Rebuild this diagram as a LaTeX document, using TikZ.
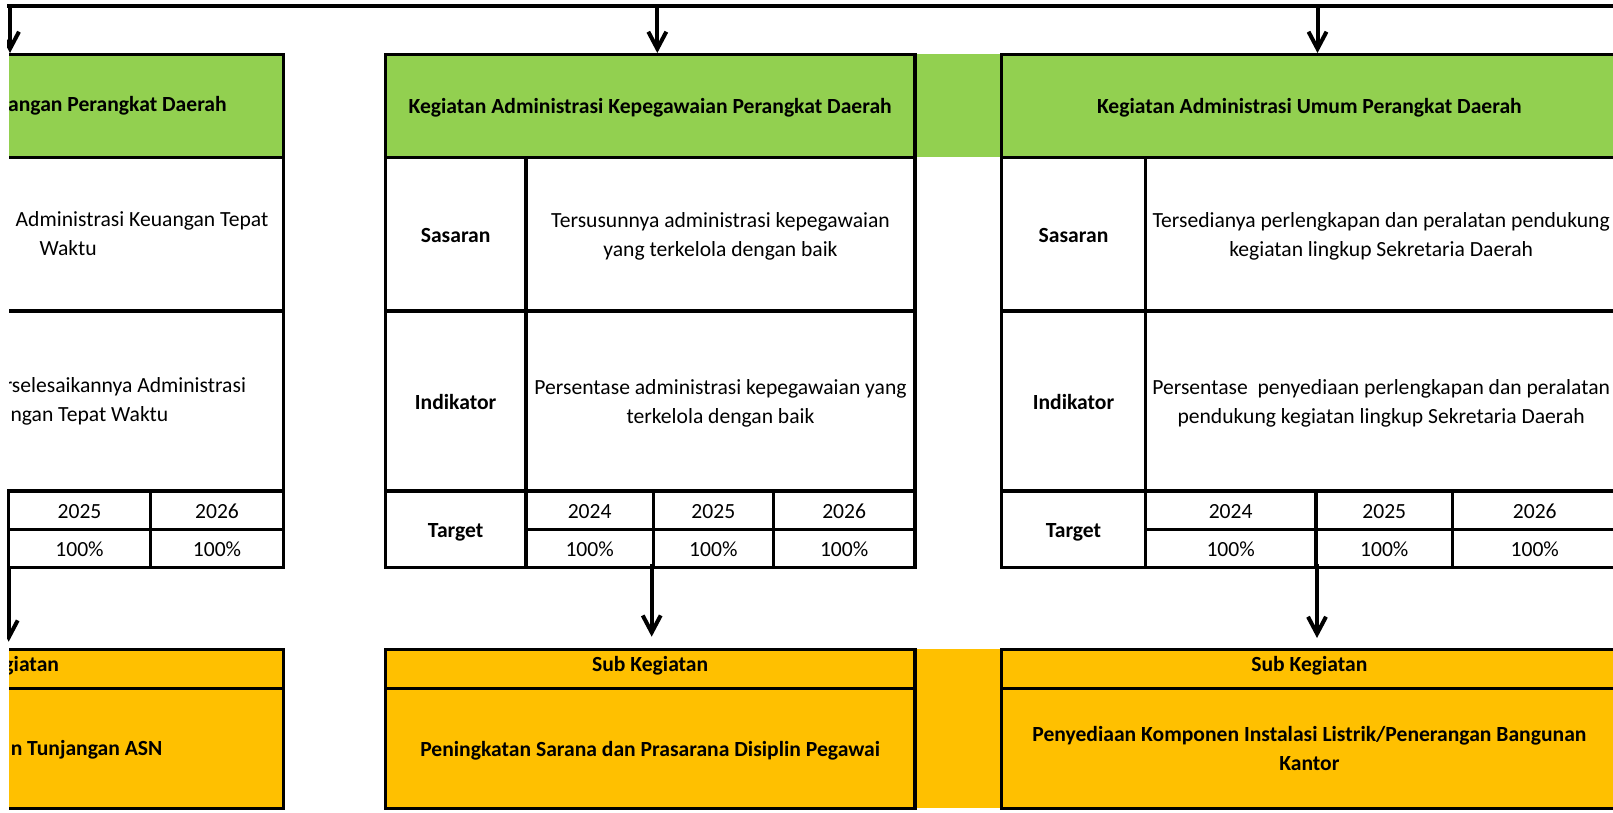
\documentclass[tikz,border=0pt]{standalone}
\usepackage{fontspec}
\setmainfont{Carlito}
\usetikzlibrary{arrows.meta}
\definecolor{hgreen}{HTML}{92D050}
\definecolor{horange}{HTML}{FFC000}
\begin{document}
\begin{tikzpicture}[x=1pt,y=-1pt,
  plain/.style={font=\fontsize{21.6}{28.7}\selectfont},
  bold/.style={font=\fontsize{21.6}{28.7}\selectfont\bfseries},
  box/.style={draw=black, line width=3.4pt, inner sep=0pt, outer sep=0pt,
    plain, text height=18pt, text depth=2pt, align=center},
  two/.style={text height=46.7pt},
  gbox/.style={box, fill=hgreen},
  obox/.style={box, fill=horange},
  subhead/.style={obox, bold, text height=16pt, text depth=10pt},
  lbl/.style={inner sep=0pt, outer sep=0pt, anchor=base east},
  bus/.style={line width=4pt},
  arr/.style={line width=4pt, -{Straight Barb[length=17pt,width=18pt]}},
]
\useasboundingbox (0,0) rectangle (1613,813);
\clip (7,0) rectangle (1613,813);

% fillers between boxes
\fill[hgreen] (915,54.5) rectangle (1001.7,157.5);
\fill[horange] (915,649.3) rectangle (1001.7,808.3);

% ---------------- left box (partly outside the picture) ----------------
\begin{scope}
\clip (9,0) rectangle (1613,813);
\node[gbox, minimum width=600pt, minimum height=103pt] (lh) at (-16.7,106) {};
\node[box, minimum width=600pt, minimum height=153.5pt] (lsv) at (-16.7,234.25) {};
\node[box, minimum width=600pt, minimum height=180pt] (liv) at (-16.7,401) {};
\node[obox, minimum width=600pt, minimum height=39pt] (lsh) at (-16.7,668.8) {};
\node[obox, minimum width=600pt, minimum height=120pt] (lsb) at (-16.7,748.3) {};
\node[lbl, bold] (lht) at (226.7,111.7) {angan Perangkat Daerah};
\node[lbl, plain] (lsv1) at (268.3,226.7) {Administrasi Keuangan Tepat};
\node[lbl, plain] (lsv2) at (96.7,255) {Waktu};
\node[lbl, plain] (liv1) at (246,392.7) {rselesaikannya Administrasi};
\node[lbl, plain] (liv2) at (168.3,421.7) {ngan Tepat Waktu};
\node[lbl, bold] (lsht) at (59,671.7) {giatan};
\node[lbl, bold] (lsbt) at (162.3,755) {n Tunjangan ASN};
\end{scope}
\node[box, minimum width=142.4pt, minimum height=38.3pt] (ly1) at (79.5,510.15) {2025};
\node[box, minimum width=132.6pt, minimum height=38.3pt] (ly2) at (217,510.15) {2026};
\node[box, minimum width=142.4pt, minimum height=38.4pt] (lp1) at (79.5,548.5) {100\%};
\node[box, minimum width=132.6pt, minimum height=38.4pt] (lp2) at (217,548.5) {100\%};

% ---------------- middle box ----------------
\node[gbox, bold, minimum width=529.7pt, minimum height=103pt] (mh) at (650.15,106)
  {Kegiatan Administrasi Kepegawaian Perangkat Daerah};
\node[box, bold, minimum width=140.7pt, minimum height=153.5pt] (msl) at (455.65,234.25) {Sasaran};
\node[box, two, minimum width=389pt, minimum height=153.5pt] (msv) at (720.5,234.25)
  {Tersusunnya administrasi kepegawaian\\yang terkelola dengan baik};
\node[box, bold, minimum width=140.7pt, minimum height=180pt] (mil) at (455.65,401) {Indikator};
\node[box, two, minimum width=389pt, minimum height=180pt] (miv) at (720.5,401)
  {Persentase administrasi kepegawaian yang\\terkelola dengan baik};
\node[box, bold, minimum width=140.7pt, minimum height=76.7pt] (mtl) at (455.65,529.35) {Target};
\node[box, minimum width=127.3pt, minimum height=38.3pt] (my1) at (589.65,510.15) {2024};
\node[box, minimum width=120pt, minimum height=38.3pt] (my2) at (713.3,510.15) {2025};
\node[box, minimum width=141.7pt, minimum height=38.3pt] (my3) at (844.15,510.15) {2026};
\node[box, minimum width=127.3pt, minimum height=38.4pt] (mp1) at (589.65,548.5) {100\%};
\node[box, minimum width=120pt, minimum height=38.4pt] (mp2) at (713.3,548.5) {100\%};
\node[box, minimum width=141.7pt, minimum height=38.4pt] (mp3) at (844.15,548.5) {100\%};
\node[subhead, minimum width=529.7pt, minimum height=39pt] (msh) at (650.15,668.8) {Sub Kegiatan};
\node[obox, bold, minimum width=529.7pt, minimum height=120pt] (msb) at (650.15,748.3)
  {Peningkatan Sarana dan Prasarana Disiplin Pegawai};

% ---------------- right box ----------------
\node[gbox, bold, minimum width=615.3pt, minimum height=103pt] (rh) at (1309.35,106)
  {Kegiatan Administrasi Umum Perangkat Daerah};
\node[box, bold, minimum width=143.6pt, minimum height=153.5pt] (rsl) at (1073.5,234.25) {Sasaran};
\node[box, two, minimum width=471.7pt, minimum height=153.5pt] (rsv) at (1381.15,234.25)
  {Tersedianya perlengkapan dan peralatan pendukung\\kegiatan lingkup Sekretaria Daerah};
\node[box, bold, minimum width=143.6pt, minimum height=180pt] (ril) at (1073.5,401) {Indikator};
\node[box, two, minimum width=471.7pt, minimum height=180pt] (riv) at (1381.15,401)
  {Persentase\ \ penyediaan perlengkapan dan peralatan\\pendukung kegiatan lingkup Sekretaria Daerah};
\node[box, bold, minimum width=143.6pt, minimum height=76.7pt] (rtl) at (1073.5,529.35) {Target};
\node[box, minimum width=170.7pt, minimum height=38.3pt] (ry1) at (1230.65,510.15) {2024};
\node[box, minimum width=136.5pt, minimum height=38.3pt] (ry2) at (1384.25,510.15) {2025};
\node[box, minimum width=164.5pt, minimum height=38.3pt] (ry3) at (1534.75,510.15) {2026};
\node[box, minimum width=170.7pt, minimum height=38.4pt] (rp1) at (1230.65,548.5) {100\%};
\node[box, minimum width=136.5pt, minimum height=38.4pt] (rp2) at (1384.25,548.5) {100\%};
\node[box, minimum width=164.5pt, minimum height=38.4pt] (rp3) at (1534.75,548.5) {100\%};
\node[subhead, minimum width=615.3pt, minimum height=39pt] (rsh) at (1309.35,668.8) {Sub Kegiatan};
\node[obox, bold, two, minimum width=615.3pt, minimum height=120pt] (rsb) at (1309.35,748.3)
  {Penyediaan Komponen Instalasi Listrik/Penerangan Bangunan\\Kantor};

% ---------------- connectors ----------------
\coordinate (busW) at (7,6.5);
\coordinate (busE) at (1625,6.5);
\coordinate (lTip) at (10,53);
\coordinate (mTip) at (657.3,53);
\coordinate (rTip) at (1317.5,53);
\draw[bus] (busW) -- (busE);
\draw[arr] (lTip |- busW) -- (lTip);
\draw[arr] (mTip |- busW) -- (mTip);
\draw[arr] (rTip |- busW) -- (rTip);

\coordinate (lbS) at (8.7,566);
\coordinate (lbE) at (8.7,641.7);
\coordinate (mbS) at (651.7,564);
\coordinate (mbE) at (651.7,636.7);
\coordinate (rbS) at (1317,564);
\coordinate (rbE) at (1317,638);
\draw[arr] (lbS) -- (lbE);
\draw[arr] (mbS) -- (mbE);
\draw[arr] (rbS) -- (rbE);
\end{tikzpicture}
\end{document}
